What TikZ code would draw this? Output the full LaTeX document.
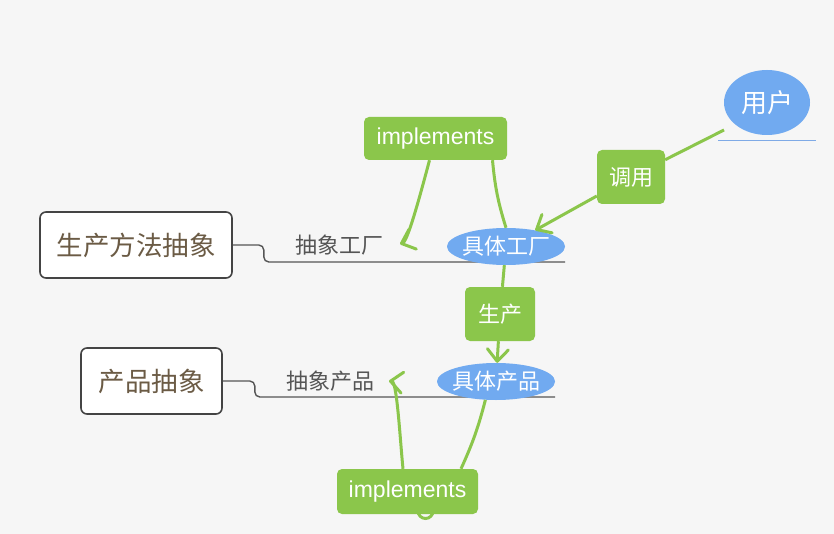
\documentclass[tikz,border=0pt]{standalone}
\usepackage{fontspec}
\setmainfont{Liberation Sans}
\newfontfamily\cjk{Noto Sans CJK SC}
\usetikzlibrary{shapes.geometric,arrows.meta}
\definecolor{paper}{HTML}{F6F6F6}
\definecolor{boxline}{HTML}{444444}
\definecolor{topictext}{HTML}{6B5B45}
\definecolor{branchtext}{HTML}{555555}
\definecolor{nodeblue}{HTML}{71AAF0}
\definecolor{relgreen}{HTML}{8BC64B}
\definecolor{lineblue}{HTML}{7FAAE6}

\begin{document}
\begin{tikzpicture}
        [x=1pt, y=-1pt,
        topic/.style={rectangle, rounded corners=6pt, draw=boxline, line width=1.6pt,
            fill=white, text=topictext, font=\cjk\fontsize{26.5}{30}\selectfont},
        branch/.style={text=branchtext, font=\cjk\fontsize{22}{26}\selectfont},
        branchline/.style={draw=branchtext, line width=1.4pt, rounded corners=5pt},
        cls/.style={ellipse, fill=nodeblue, text=white, inner xsep=-14pt, inner ysep=-6pt,
            font=\cjk\fontsize{22}{26}\selectfont},
        rel/.style={rectangle, rounded corners=5pt, fill=relgreen, text=white,
            font=\fontsize{23}{27}\selectfont},
        link/.style={draw=relgreen, line width=3pt},
        arrowhead/.style={-{Straight Barb[length=12pt,width=21pt,round]}},]

        \fill[paper] (0,0) rectangle (834,534);
        \useasboundingbox (0,0) rectangle (834,534);

        \node[topic, minimum width=192pt, minimum height=66pt] (method) at (136,245) {生产方法抽象};
        \node[topic, minimum width=141pt, minimum height=66pt] (product) at (151.5,381) {产品抽象};

        \coordinate (factorybase) at (565,262);
        \coordinate (productbase) at (555,397);
        \coordinate (userbase) at (718,141);
        \coordinate (usertail) at (724,130);
        \coordinate (factoryback) at (400,244);
        \coordinate (productback) at (389,381);

        \draw[branchline] (method.east) -- ++(31,0) |- (factorybase);
        \draw[branchline] (product.east) -- ++(32,0) |- (productbase);
        \draw[draw=lineblue, line width=1pt] (userbase) -- ++(98,0);
        \draw[link] (418,511) arc[start angle=180, end angle=0, radius=7.5];

        \node[branch] (abfactory) at (339,245) {抽象工厂};
        \node[branch] (abproduct) at (330,381) {抽象产品};

        \node[cls, minimum width=118pt, minimum height=37pt] (factory) at (506,246.5) {具体工厂};
        \node[cls, minimum width=118pt, minimum height=37pt] (prodcls) at (496,381.5) {具体产品};
        \node[cls, minimum width=86pt, minimum height=65pt,
            font=\cjk\fontsize{26}{30}\selectfont] (user) at (767,102.5) {用户};

        \node[rel, minimum width=143pt, minimum height=43pt] (implfactory) at (435.5,138.5) {implements};
        \node[rel, minimum width=141pt, minimum height=45pt] (implproduct) at (407.5,491.5) {implements};
        \node[rel, minimum width=68pt, minimum height=54pt, font=\fontsize{22}{26}\selectfont] (call) at (631,177) {\cjk 调用};
        \node[rel, minimum width=70pt, minimum height=54pt, font=\fontsize{22}{26}\selectfont] (make) at (500,314) {\cjk 生产};

        \draw[link, arrowhead] ([xshift=-6pt]implfactory.south)
            .. controls +(-8,30) and +(8,-3) .. (factoryback);
        \draw[link] ([xshift=57pt]implfactory.south) to[bend right=6] (factory.north);
        \draw[link, arrowhead] (call) -- (factory);
        \draw[link] (call) -- (usertail);
        \draw[link] (factory) -- (make);
        \draw[link, arrowhead] (make) -- (prodcls);
        \draw[link] (prodcls.-120) to[bend left=5] ([xshift=53.5pt]implproduct.north);
        \draw[link, arrowhead] ([xshift=-4.5pt]implproduct.north)
            .. controls +(-3,-30) and +(8,1) .. (productback);

    \end{tikzpicture}
\end{document}
